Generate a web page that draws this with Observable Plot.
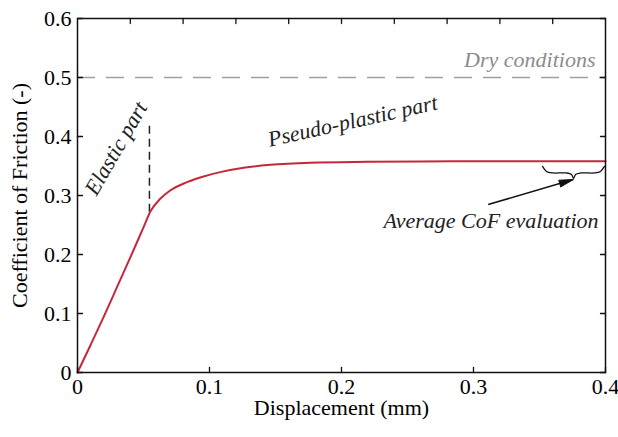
<!DOCTYPE html>
<html><head><meta charset="utf-8">
<script src="https://cdn.jsdelivr.net/npm/d3@7"></script>
<script src="https://cdn.jsdelivr.net/npm/@observablehq/plot@0.6"></script>
<style>body{margin:0;background:#fff;} #spacer{height:2px;width:618px;background:#fff}</style>
</head><body><div id="chart"></div><div id="spacer"></div>
<script>
// Main friction curve
const displacement = [0, 0.01, 0.02, 0.03, 0.04, 0.05, 0.0555, 0.0627, 0.0702, 0.0829, 0.0955, 0.1081, 0.1258, 0.146, 0.1765, 0.22, 0.26, 0.30, 0.35, 0.40];
const cof =          [0, 0.047, 0.095, 0.145, 0.195, 0.246, 0.274, 0.2944, 0.3085, 0.3226, 0.3323, 0.3396, 0.347, 0.352, 0.3555, 0.357, 0.3578, 0.358, 0.3582, 0.3582];

// Ticks
const xTicks = [0, 0.1, 0.2, 0.3, 0.4];
const xTickLabels = ["0", "0.1", "0.2", "0.3", "0.4"];
const xTopTicks = [0.04, 0.08, 0.12, 0.16, 0.2, 0.24, 0.28, 0.32, 0.36];
const yTicks = [0, 0.1, 0.2, 0.3, 0.4, 0.5, 0.6];
const yTickLabels = ["0", "0.1", "0.2", "0.3", "0.4", "0.5", "0.6"];

// Annotations
const dryCof = [0.5];
const dryLabel = [{x: 0.3924, y: 0.517, text: "Dry conditions"}];
const elasticLimit = [{x: 0.0545, y1: 0.2717, y2: 0.422}];
const elasticLabel = [{x: 0.0293, y: 0.3798, text: "Elastic part"}];
const plasticLabel = [{x: 0.2085, y: 0.4261, text: "Pseudo-plastic part"}];
const avgLabel = [{x: 0.3947, y: 0.2457, text: "Average CoF evaluation"}];
const avgArrow = [{x1: 0.3111, y1: 0.2847, x2: 0.3755, y2: 0.327}];
const braceX = [0.3523, 0.3553, 0.3598, 0.3705, 0.3742, 0.3758, 0.3773, 0.3811, 0.3917, 0.3962, 0.3992];
const braceY = [0.3493, 0.3408, 0.3382, 0.3382, 0.3357, 0.3289, 0.3357, 0.3382, 0.3382, 0.3408, 0.3493];

const curve = displacement.map((d, i) => ({x: d, y: cof[i]}));
const brace = braceX.map((d, i) => ({x: d, y: braceY[i]}));

const FONT = "Liberation Serif";

const headShape = {
  draw(context, l) {
    context.moveTo(0, -l);
    context.lineTo(-3.5, 0);
    context.lineTo(3.5, 0);
    context.closePath();
  }
};
const tickShape = {
  draw(context, l) {
    context.moveTo(0, 0);
    context.lineTo(0, -l);
  }
};
const tickStyle = {length: 5, anchor: "start", shape: tickShape, stroke: "#111", strokeWidth: 1.3};

const chart = Plot.plot({
  width: 618,
  height: 437,
  marginLeft: 77,
  marginRight: 13,
  marginTop: 18,
  marginBottom: 65,
  x: {domain: [0, 0.4]},
  y: {domain: [0, 0.6]},
  marks: [
    Plot.ruleY(dryCof, {stroke: "#a0a0a0", strokeWidth: 1.5, strokeDasharray: "18,11"}),
    Plot.ruleX(elasticLimit, {x: "x", y1: "y1", y2: "y2", stroke: "#222", strokeWidth: 1.5, strokeDasharray: "8,5"}),
    Plot.line(curve, {x: "x", y: "y", stroke: "#c4283a", strokeWidth: 2, curve: "monotone-x"}),
    Plot.line(brace, {x: "x", y: "y", stroke: "#111", strokeWidth: 1.3, curve: "catmull-rom"}),
    Plot.link(avgArrow, {x1: "x1", y1: "y1", x2: "x2", y2: "y2", stroke: "#111", strokeWidth: 1.5}),
    Plot.vector(avgArrow, {x: "x2", y: "y2", length: 14, rotate: 73.6, anchor: "end", shape: headShape, fill: "#111", stroke: "#111", strokeWidth: 1}),
    Plot.frame({stroke: "#111", strokeWidth: 1.5}),
    Plot.vector(xTicks, {x: d => d, frameAnchor: "bottom", rotate: 0, ...tickStyle}),
    Plot.vector(xTopTicks, {x: d => d, frameAnchor: "top", rotate: 180, ...tickStyle}),
    Plot.vector(yTicks, {y: d => d, frameAnchor: "left", rotate: 90, ...tickStyle}),
    Plot.vector(yTicks, {y: d => d, frameAnchor: "right", rotate: -90, ...tickStyle}),
    Plot.axisX(xTicks, {anchor: "bottom", tickSize: 0, tickPadding: 6, tickFormat: (d, i) => xTickLabels[i], label: "Displacement (mm)", labelAnchor: "center", labelOffset: 42, labelArrow: false, fontSize: 22, fontFamily: FONT}),
    Plot.axisY(yTicks, {anchor: "left", tickSize: 0, tickPadding: 6, tickFormat: (d, i) => yTickLabels[i], label: "Coefficient of Friction (-)", labelAnchor: "center", labelOffset: 66, labelArrow: false, fontSize: 22, fontFamily: FONT}),
    Plot.text(dryLabel, {x: "x", y: "y", text: "text", textAnchor: "end", lineAnchor: "bottom", fill: "#8c8c8c", fontStyle: "italic", fontSize: 22, fontFamily: FONT}),
    Plot.text(elasticLabel, {x: "x", y: "y", text: "text", rotate: -60, fontStyle: "italic", fontSize: 22, fill: "#222", fontFamily: FONT}),
    Plot.text(plasticLabel, {x: "x", y: "y", text: "text", rotate: -12.5, fontStyle: "italic", fontSize: 22, fill: "#222", fontFamily: FONT}),
    Plot.text(avgLabel, {x: "x", y: "y", text: "text", textAnchor: "end", lineAnchor: "bottom", fontStyle: "italic", fontSize: 22, fill: "#222", fontFamily: FONT})
  ]
});
chart.querySelectorAll("text").forEach(t => { t.style.fontFamily = FONT; });
document.getElementById("chart").appendChild(chart);
</script>
</body></html>
